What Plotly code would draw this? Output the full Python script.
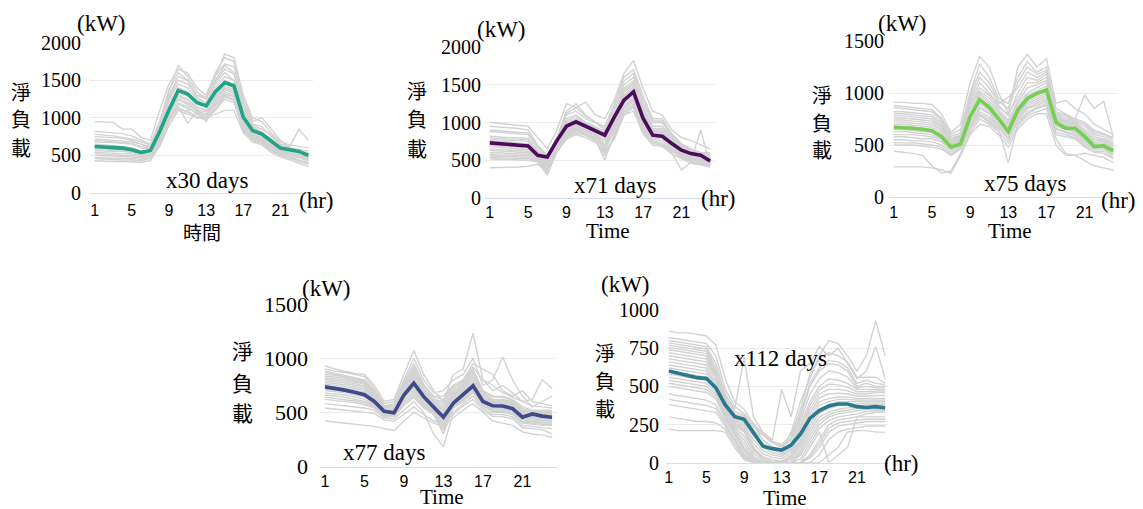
import plotly.graph_objects as go

W, H = 1143, 509
hours = list(range(1, 25))
x_ticks = [1, 5, 9, 13, 17, 21]

# ---------------- Panel 1 (x30 days) ----------------
mean1 = [619, 615, 606, 597, 575, 540, 566, 818, 1106, 1363, 1318, 1204, 1159, 1350, 1469, 1425,
         1009, 832, 783, 686, 597, 575, 553, 500]
gray1 = [
    [950, 950, 940, 850, 850, 740, 700, 1100, 1450, 1650, 1600, 1400, 1300, 1600, 1800, 1750, 1250, 950, 1000, 850, 700, 600, 550, 500],
    [780, 770, 760, 740, 720, 680, 640, 950, 1300, 1550, 1500, 1300, 1250, 1500, 1700, 1600, 1150, 900, 850, 780, 650, 620, 850, 700],
    [720, 710, 700, 690, 680, 650, 600, 900, 1250, 1450, 1400, 1250, 1200, 1450, 1600, 1500, 1050, 850, 800, 720, 620, 580, 560, 520],
    [680, 680, 670, 660, 650, 600, 580, 850, 1200, 1400, 1350, 1220, 1150, 1400, 1550, 1500, 1000, 820, 780, 680, 600, 560, 540, 500],
    [650, 640, 630, 620, 600, 560, 560, 800, 1150, 1350, 1300, 1180, 1150, 1350, 1500, 1450, 980, 800, 760, 660, 580, 560, 530, 480],
    [620, 610, 600, 600, 580, 540, 550, 780, 1100, 1300, 1250, 1150, 1100, 1300, 1450, 1400, 950, 780, 740, 650, 570, 540, 520, 460],
    [580, 570, 560, 560, 550, 520, 540, 760, 1050, 1250, 1200, 1100, 1050, 1250, 1400, 1350, 900, 760, 720, 620, 560, 520, 500, 450],
    [540, 540, 530, 520, 520, 500, 520, 720, 1000, 1200, 1150, 1050, 1000, 1200, 1350, 1300, 880, 740, 700, 600, 540, 500, 480, 420],
    [500, 500, 490, 490, 480, 470, 490, 700, 1000, 1150, 930, 1080, 950, 1150, 1300, 1250, 850, 720, 690, 580, 520, 480, 450, 400],
    [460, 450, 450, 440, 440, 430, 460, 650, 950, 1100, 1100, 1000, 980, 1100, 1250, 1200, 820, 700, 660, 560, 500, 460, 420, 380],
    [430, 420, 420, 420, 410, 410, 430, 620, 900, 1100, 1050, 1000, 1000, 1050, 1100, 1100, 800, 680, 640, 540, 480, 440, 400, 350],
    [750, 740, 740, 730, 700, 650, 620, 900, 1350, 1700, 1550, 1350, 1250, 1550, 1850, 1800, 1300, 1000, 950, 800, 680, 640, 620, 600],
    [700, 690, 680, 670, 660, 620, 600, 880, 1280, 1500, 1450, 1280, 1180, 1480, 1650, 1580, 1100, 880, 820, 700, 610, 570, 560, 540],
    [600, 590, 580, 570, 560, 530, 530, 760, 1080, 1280, 1230, 1120, 1080, 1280, 1420, 1380, 930, 770, 730, 640, 560, 530, 510, 470],
    [520, 520, 510, 500, 500, 480, 500, 700, 1020, 1180, 1120, 1070, 1020, 1180, 1320, 1280, 860, 730, 700, 590, 530, 490, 470, 430],
    [470, 470, 460, 460, 460, 450, 470, 680, 980, 1130, 1080, 1020, 1000, 1120, 1280, 1230, 840, 710, 670, 570, 510, 470, 440, 390],
    [820, 810, 800, 790, 760, 700, 650, 950, 1380, 1600, 1500, 1300, 1280, 1560, 1720, 1680, 1200, 920, 880, 760, 640, 600, 580, 560],
    [560, 560, 550, 550, 540, 510, 520, 740, 1060, 1240, 1180, 1090, 1040, 1230, 1380, 1330, 890, 750, 710, 610, 550, 510, 490, 440],
]

# ---------------- Panel 2 (x71 days) ----------------
mean2 = [730, 721, 708, 699, 690, 566, 544, 760, 951, 1009, 951, 889, 832, 1075, 1296, 1407,
         1053, 832, 818, 721, 633, 588, 566, 491]
gray2 = [
    [1000, 990, 980, 960, 950, 800, 650, 900, 1250, 1200, 1270, 1100, 1050, 1300, 1650, 1820, 1450, 1150, 1100, 900, 800, 760, 700, 650],
    [950, 940, 930, 920, 900, 700, 560, 800, 1150, 1250, 1100, 1000, 950, 1250, 1600, 1700, 1350, 1050, 1050, 850, 720, 650, 600, 600],
    [880, 870, 860, 850, 840, 650, 520, 780, 1100, 1150, 1050, 1000, 900, 1150, 1500, 1600, 1250, 1000, 1000, 820, 700, 620, 580, 560],
    [820, 810, 800, 800, 790, 620, 500, 760, 1050, 1100, 1000, 950, 880, 1100, 1450, 1550, 1200, 950, 950, 800, 680, 600, 560, 540],
    [780, 770, 760, 760, 750, 600, 480, 740, 1000, 1050, 980, 920, 850, 1050, 1400, 1500, 1150, 900, 900, 780, 650, 580, 550, 520],
    [740, 730, 720, 710, 700, 580, 460, 720, 950, 1000, 950, 900, 800, 1000, 1350, 1450, 1100, 880, 870, 750, 620, 560, 530, 500],
    [700, 690, 680, 670, 660, 560, 440, 700, 900, 980, 930, 880, 780, 980, 1300, 1400, 1050, 850, 850, 720, 600, 550, 520, 480],
    [650, 640, 640, 630, 620, 540, 420, 680, 880, 950, 900, 850, 700, 950, 1250, 1350, 1000, 820, 820, 700, 580, 540, 500, 460],
    [600, 600, 590, 580, 580, 520, 400, 660, 860, 920, 880, 820, 650, 900, 1200, 1300, 950, 800, 780, 680, 560, 520, 480, 450],
    [560, 550, 550, 540, 540, 500, 350, 640, 820, 900, 850, 780, 500, 850, 1150, 1250, 900, 760, 720, 640, 540, 500, 900, 430],
    [520, 510, 510, 500, 500, 480, 300, 620, 800, 860, 830, 760, 600, 800, 1100, 1200, 880, 720, 700, 600, 370, 480, 460, 420],
    [400, 400, 400, 410, 420, 450, 330, 600, 780, 840, 800, 740, 620, 780, 1100, 1150, 850, 700, 680, 580, 520, 460, 440, 410],
    [900, 890, 880, 870, 860, 680, 540, 790, 1120, 1200, 1080, 1010, 920, 1200, 1550, 1650, 1300, 1020, 1020, 840, 710, 640, 590, 580],
    [800, 790, 780, 780, 770, 610, 490, 750, 1020, 1080, 990, 930, 860, 1080, 1420, 1520, 1180, 920, 920, 790, 660, 590, 560, 530],
    [760, 750, 740, 730, 720, 590, 470, 730, 980, 1020, 960, 910, 820, 1020, 1370, 1470, 1120, 890, 880, 760, 630, 570, 540, 510],
    [720, 710, 700, 690, 680, 570, 450, 710, 920, 990, 940, 890, 790, 990, 1320, 1420, 1070, 860, 860, 730, 610, 550, 520, 490],
    [680, 670, 660, 650, 640, 550, 430, 690, 890, 960, 910, 860, 740, 960, 1270, 1370, 1020, 830, 830, 710, 590, 540, 510, 470],
    [630, 620, 620, 610, 600, 530, 410, 670, 870, 930, 890, 830, 680, 920, 1220, 1320, 970, 810, 800, 690, 570, 530, 490, 455],
    [580, 570, 570, 560, 560, 510, 380, 650, 840, 910, 860, 800, 640, 880, 1180, 1280, 930, 780, 750, 660, 550, 510, 470, 440],
    [540, 530, 530, 520, 520, 490, 360, 630, 810, 880, 840, 770, 560, 820, 1130, 1220, 890, 740, 710, 620, 530, 490, 450, 425],
]

# ---------------- Panel 3 (x75 days) ----------------
mean3 = [670, 667, 661, 651, 638, 581, 479, 511, 772, 938, 862, 750, 629, 836, 948, 996,
         1028, 718, 661, 661, 581, 485, 492, 447]
gray3 = [
    [910, 910, 900, 900, 890, 800, 620, 700, 1100, 1350, 1250, 1000, 800, 1250, 1370, 1250, 1330, 900, 930, 850, 800, 700, 650, 600],
    [880, 870, 860, 850, 840, 760, 600, 650, 1000, 1280, 1150, 950, 900, 1150, 1300, 1200, 1250, 850, 800, 750, 980, 850, 920, 580],
    [820, 820, 810, 800, 790, 720, 560, 600, 950, 1150, 1050, 900, 960, 1050, 1200, 1150, 1200, 800, 780, 740, 700, 620, 600, 560],
    [780, 780, 770, 760, 750, 680, 540, 580, 900, 1050, 980, 860, 800, 950, 1100, 1100, 1150, 780, 740, 720, 650, 580, 560, 520],
    [740, 740, 730, 720, 710, 650, 520, 560, 850, 1000, 920, 820, 720, 900, 1000, 1050, 1100, 760, 720, 700, 620, 550, 540, 500],
    [700, 700, 690, 680, 670, 620, 500, 540, 800, 950, 880, 780, 680, 850, 960, 1000, 1050, 740, 700, 680, 600, 520, 520, 480],
    [650, 650, 640, 630, 620, 580, 480, 520, 750, 900, 830, 740, 640, 800, 920, 960, 1000, 700, 680, 650, 570, 500, 500, 450],
    [600, 600, 600, 590, 580, 550, 460, 500, 700, 850, 800, 700, 600, 780, 880, 920, 960, 680, 650, 620, 540, 480, 480, 420],
    [550, 550, 540, 540, 530, 500, 430, 480, 680, 800, 750, 680, 550, 740, 850, 880, 920, 650, 620, 590, 500, 460, 460, 400],
    [500, 500, 500, 490, 480, 460, 400, 460, 650, 780, 720, 650, 330, 700, 800, 850, 880, 600, 580, 560, 480, 430, 420, 370],
    [440, 430, 420, 400, 300, 230, 250, 420, 620, 750, 700, 630, 520, 680, 780, 820, 850, 560, 420, 400, 420, 400, 380, 330],
    [290, 290, 290, 290, 280, 260, 230, 400, 600, 700, 680, 600, 480, 650, 750, 800, 800, 500, 400, 400, 350, 300, 280, 260],
    [860, 850, 840, 830, 820, 740, 580, 620, 980, 1200, 1100, 920, 850, 1100, 1250, 1180, 1220, 820, 790, 750, 720, 640, 610, 570],
    [800, 800, 790, 780, 770, 700, 550, 590, 920, 1100, 1000, 880, 780, 1000, 1150, 1120, 1180, 790, 760, 730, 680, 600, 580, 540],
    [760, 760, 750, 740, 730, 670, 530, 570, 880, 1020, 950, 840, 740, 920, 1050, 1080, 1120, 770, 730, 710, 630, 560, 550, 510],
    [720, 720, 710, 700, 690, 640, 510, 550, 820, 980, 900, 800, 700, 870, 980, 1020, 1070, 750, 710, 690, 610, 530, 530, 490],
    [680, 680, 670, 660, 650, 600, 490, 530, 780, 920, 850, 760, 660, 820, 940, 980, 1020, 720, 690, 660, 580, 510, 510, 460],
    [630, 630, 620, 610, 600, 560, 470, 510, 720, 870, 810, 720, 620, 790, 900, 940, 980, 690, 660, 630, 550, 490, 490, 430],
    [580, 580, 570, 560, 560, 530, 450, 490, 690, 820, 770, 690, 570, 760, 860, 900, 940, 660, 630, 600, 520, 470, 470, 410],
    [520, 520, 520, 510, 500, 480, 410, 470, 660, 790, 730, 660, 560, 720, 820, 860, 900, 620, 600, 570, 490, 440, 440, 380],
]

# ---------------- Panel 4 (x77 days) ----------------
mean4 = [735, 722, 705, 685, 662, 600, 510, 495, 660, 770, 645, 550, 455, 585, 660, 745,
         600, 560, 558, 535, 455, 485, 465, 455]
gray4 = [
    [930, 900, 880, 860, 850, 750, 600, 620, 850, 1070, 850, 700, 600, 850, 900, 1230, 800, 700, 750, 680, 600, 620, 800, 720],
    [900, 880, 870, 850, 830, 720, 580, 600, 800, 1000, 800, 680, 700, 800, 850, 1000, 750, 800, 1010, 800, 650, 550, 600, 650],
    [880, 860, 840, 820, 800, 700, 560, 580, 780, 950, 760, 650, 650, 750, 800, 950, 900, 850, 700, 650, 700, 600, 580, 560],
    [850, 840, 830, 800, 780, 680, 550, 560, 750, 900, 720, 620, 600, 720, 780, 900, 700, 650, 650, 620, 550, 520, 520, 520],
    [820, 810, 800, 780, 760, 660, 540, 540, 720, 860, 700, 600, 560, 680, 750, 860, 680, 620, 620, 600, 520, 500, 500, 500],
    [790, 780, 770, 750, 730, 640, 520, 520, 700, 820, 680, 580, 520, 650, 720, 820, 660, 600, 600, 580, 500, 480, 480, 480],
    [760, 750, 740, 720, 700, 620, 500, 500, 680, 780, 650, 560, 480, 620, 690, 780, 640, 580, 580, 560, 480, 460, 460, 460],
    [730, 720, 710, 690, 670, 600, 490, 490, 660, 750, 630, 540, 440, 600, 660, 750, 620, 560, 560, 540, 460, 450, 440, 440],
    [700, 690, 680, 660, 640, 580, 480, 480, 640, 720, 600, 520, 400, 580, 640, 720, 600, 540, 540, 520, 440, 430, 420, 420],
    [660, 650, 640, 620, 600, 560, 470, 470, 600, 680, 570, 500, 350, 560, 620, 700, 580, 520, 520, 500, 420, 410, 400, 400],
    [620, 610, 600, 590, 570, 540, 460, 460, 560, 640, 540, 480, 300, 540, 600, 680, 560, 500, 500, 480, 400, 390, 380, 380],
    [580, 570, 560, 550, 540, 520, 450, 440, 520, 600, 500, 300, 180, 500, 580, 650, 540, 480, 480, 460, 380, 370, 360, 350],
    [540, 530, 520, 510, 500, 490, 430, 420, 480, 550, 480, 420, 400, 480, 560, 620, 520, 460, 460, 440, 360, 350, 340, 300],
    [420, 410, 400, 390, 380, 370, 350, 330, 420, 500, 450, 400, 370, 450, 520, 580, 500, 420, 400, 380, 320, 300, 290, 270],
    [870, 850, 830, 810, 790, 690, 555, 570, 760, 920, 740, 640, 620, 740, 790, 920, 800, 750, 680, 640, 600, 560, 550, 540],
    [835, 825, 815, 790, 770, 670, 545, 550, 735, 880, 710, 610, 580, 700, 765, 880, 690, 640, 640, 610, 535, 510, 510, 510],
    [805, 795, 785, 765, 745, 650, 530, 530, 710, 840, 690, 590, 540, 665, 735, 840, 670, 610, 610, 590, 510, 490, 490, 490],
    [775, 765, 755, 735, 715, 630, 510, 510, 690, 800, 665, 570, 500, 635, 705, 800, 650, 590, 590, 570, 490, 470, 470, 470],
    [745, 735, 725, 705, 685, 610, 495, 495, 670, 765, 640, 550, 460, 610, 675, 765, 630, 570, 570, 550, 470, 455, 450, 450],
    [715, 705, 695, 675, 655, 590, 485, 485, 650, 735, 615, 530, 420, 590, 650, 735, 610, 550, 550, 530, 450, 440, 430, 430],
    [680, 670, 660, 640, 620, 570, 475, 475, 620, 700, 585, 510, 380, 570, 630, 710, 590, 530, 530, 510, 430, 420, 410, 410],
    [640, 630, 620, 605, 585, 550, 465, 465, 580, 660, 555, 490, 330, 550, 610, 690, 570, 510, 510, 490, 410, 400, 390, 390],
]

# ---------------- Panel 5 (x112 days) ----------------
mean5 = [600, 585, 570, 557, 552, 491, 378, 301, 284, 192, 109, 92, 83, 116, 188, 290,
         341, 371, 384, 384, 367, 362, 367, 360]
gray5 = [
    [860, 850, 850, 840, 830, 770, 550, 400, 350, 250, 150, 100, 80, 200, 400, 550, 700, 800, 780, 700, 600, 700, 930, 700],
    [800, 790, 780, 770, 760, 650, 450, 350, 690, 300, 200, 150, 480, 300, 600, 650, 760, 700, 750, 650, 550, 600, 760, 550],
    [770, 760, 750, 740, 730, 600, 420, 320, 300, 230, 180, 130, 100, 150, 300, 500, 600, 650, 640, 600, 500, 520, 500, 500],
    [740, 730, 720, 710, 700, 580, 400, 300, 280, 200, 120, 80, 60, 100, 250, 400, 500, 550, 540, 520, 480, 480, 480, 480],
    [700, 690, 680, 670, 660, 560, 380, 280, 250, 150, 80, 50, 40, 80, 200, 350, 450, 480, 480, 470, 450, 450, 460, 460],
    [660, 650, 640, 630, 620, 520, 360, 260, 220, 100, 40, 20, 10, 50, 150, 300, 400, 420, 430, 430, 420, 420, 420, 420],
    [620, 610, 600, 590, 580, 500, 340, 240, 200, 80, 20, 0, 0, 30, 120, 250, 350, 380, 400, 400, 400, 400, 400, 400],
    [580, 570, 560, 550, 540, 480, 320, 220, 150, 40, 0, 0, 0, 0, 80, 200, 300, 330, 350, 360, 370, 380, 380, 380],
    [540, 530, 520, 510, 500, 450, 300, 200, 100, 20, 0, 0, 0, 0, 50, 150, 250, 300, 320, 330, 340, 350, 350, 350],
    [500, 490, 480, 470, 460, 420, 280, 180, 80, 0, 0, 0, 0, 0, 0, 100, 200, 0, 50, 100, 300, 320, 330, 330],
    [450, 440, 430, 420, 410, 380, 260, 160, 60, 0, 0, 0, 0, 0, 0, 50, 150, 250, 280, 290, 300, 300, 300, 300],
    [380, 370, 360, 350, 340, 330, 240, 140, 40, 0, 0, 0, 0, 0, 0, 30, 100, 200, 240, 250, 260, 270, 270, 270],
    [300, 290, 280, 270, 270, 260, 220, 120, 30, 0, 0, 0, 0, 0, 0, 0, 50, 150, 200, 220, 230, 240, 240, 240],
    [220, 210, 210, 210, 210, 210, 200, 100, 20, 0, 0, 0, 0, 0, 0, 0, 0, 50, 100, 200, 210, 210, 200, 200],
    [820, 810, 800, 790, 780, 700, 480, 370, 320, 260, 190, 140, 120, 180, 350, 580, 680, 720, 700, 660, 560, 560, 560, 520],
    [785, 775, 765, 755, 745, 620, 435, 335, 310, 240, 190, 140, 110, 160, 320, 520, 620, 670, 660, 620, 520, 540, 520, 510],
    [755, 745, 735, 725, 715, 590, 410, 310, 290, 215, 150, 105, 80, 125, 275, 450, 550, 600, 590, 560, 490, 500, 490, 490],
    [720, 710, 700, 690, 680, 570, 390, 290, 265, 175, 100, 65, 50, 90, 225, 375, 475, 515, 510, 495, 465, 465, 470, 470],
    [680, 670, 660, 650, 640, 540, 370, 270, 235, 125, 60, 35, 25, 65, 175, 325, 425, 450, 455, 450, 435, 435, 440, 440],
    [640, 630, 620, 610, 600, 510, 350, 250, 210, 90, 30, 10, 5, 40, 135, 275, 375, 400, 415, 415, 410, 410, 410, 410],
    [600, 590, 580, 570, 560, 490, 330, 230, 175, 60, 10, 0, 0, 15, 100, 225, 325, 355, 375, 380, 385, 390, 390, 390],
    [560, 550, 540, 530, 520, 465, 310, 210, 125, 30, 0, 0, 0, 0, 65, 175, 275, 315, 335, 345, 355, 365, 365, 365],
    [520, 510, 500, 490, 480, 435, 290, 190, 90, 10, 0, 0, 0, 0, 25, 125, 225, 275, 300, 310, 320, 335, 340, 340],
    [415, 405, 395, 385, 375, 355, 250, 150, 50, 0, 0, 0, 0, 0, 0, 40, 125, 225, 260, 270, 280, 285, 285, 285],
]

means = [mean1, mean2, mean3, mean4, mean5]
grays = [gray1, gray2, gray3, gray4, gray5]
day_labels = ["x30 days", "x71 days", "x75 days", "x77 days", "x112 days"]
x_titles = ["時間", "Time", "Time", "Time", "Time"]
y_title_chars = ["淨", "負", "載"]
colors = ["#20a386", "#4b0c5c", "#74cf52", "#3e4a8a", "#29788e"]
y_max = [2000, 2000, 1500, 1500, 1000]
y_dtick = [500, 500, 500, 500, 250]

# layout geometry (pixels): plot-area left, right, top, bottom
boxes = [(90, 313, 42.7, 193), (485, 715, 47, 198), (889, 1118, 41, 197),
         (320, 557, 304, 466.5), (666, 888, 310, 462.7)]
x_ranges = [[0.5, 24.5], [0.5, 24.5], [0.5, 24.5], [0.5, 24.5], [0.7, 24.3]]
ystandoff = [8, 3, 4, 11, 6]
xstandoff = [3, 0, 1, 0, 0]

fig = go.Figure()
layout = dict(width=W, height=H, margin=dict(l=0, r=0, t=0, b=0), autosize=False,
              paper_bgcolor="white", plot_bgcolor="white", showlegend=False,
              template="none")

for i in range(5):
    ax = "" if i == 0 else str(i + 1)
    for g in grays[i]:
        fig.add_trace(go.Scatter(x=hours, y=g, mode="lines", xaxis="x" + ax, yaxis="y" + ax,
                                 line=dict(color="#d2d2d2", width=1.4), hoverinfo="skip"))
    fig.add_trace(go.Scatter(x=hours, y=means[i], mode="lines", xaxis="x" + ax, yaxis="y" + ax,
                             line=dict(color=colors[i], width=3.6)))
    l, r, t, b = boxes[i]
    layout["xaxis" + ax] = dict(domain=[l / W, r / W], range=x_ranges[i], anchor="y" + ax,
                                tickvals=x_ticks, ticktext=[str(v) for v in x_ticks],
                                showgrid=False, zeroline=False, showline=True,
                                linecolor="#d5dcef", linewidth=1, ticks="",
                                ticklabelstandoff=xstandoff[i], automargin=False,
                                tickfont=dict(family="Liberation Sans", size=16, color="#000"))
    layout["yaxis" + ax] = dict(domain=[1 - b / H, 1 - t / H], range=[0, y_max[i]], anchor="x" + ax,
                                dtick=y_dtick[i], tick0=0, showgrid=True, gridcolor="#ebebeb",
                                gridwidth=1, zeroline=False, showline=False, ticks="",
                                ticklabelstandoff=ystandoff[i], automargin=False,
                                tickfont=dict(family="Liberation Serif", size=22 if i == 3 else 20, color="#000"))

fig.update_layout(**layout)

SERIF = "Liberation Serif"
CJK = "Noto Sans CJK TC"


def ann(text, px, py, size, family=SERIF, xanchor="center"):
    fig.add_annotation(text=text, x=px / W, y=1 - py / H, xref="paper", yref="paper",
                       showarrow=False, xanchor=xanchor, yanchor="middle",
                       font=dict(family=family, size=size, color="#000"))


# (kW) unit labels
for (px, py) in [(101, 23), (501, 30), (902, 23), (326, 288), (625, 284)]:
    ann("(kW)", px, py, 23)
# (hr) unit labels
for (px, py) in [(316, 200), (718, 198), (1118, 200), (901, 463)]:
    ann("(hr)", px, py, 23)
# day counts
for lab, (px, py) in zip(day_labels, [(207, 180), (615, 185), (1025, 183), (384, 452), (780, 358)]):
    ann(lab, px, py, 23)
# x titles
for i, (px, py) in enumerate([(202, 231), (608, 231), (1010, 231), (442, 497), (785, 498)]):
    ann(x_titles[i], px, py, 19 if i == 0 else 21, family=CJK if i == 0 else SERIF)
# vertical y titles (one character per line)
ytitle_pos = [(21, [91, 118, 147]), (417, [90, 118, 148]), (822, [95, 123, 150]),
              (242, [350, 382, 412]), (605, [352, 380, 408])]
for i, (px, ys) in enumerate(ytitle_pos):
    for ch, py in zip(y_title_chars, ys):
        ann(ch, px, py, 21 if i == 3 else 20, family=CJK)

fig.write_html("out.html")
